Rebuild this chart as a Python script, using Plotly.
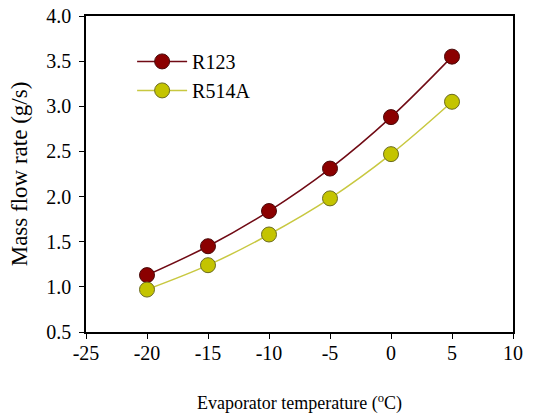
import plotly.graph_objects as go

temps = [-20, -15, -10, -5, 0, 5]
r123 = [1.13, 1.45, 1.84, 2.31, 2.88, 3.55]
r514a = [0.97, 1.24, 1.58, 1.98, 2.47, 3.05]
x_ticks = [-25, -20, -15, -10, -5, 0, 5, 10]
y_ticks = [0.5, 1.0, 1.5, 2.0, 2.5, 3.0, 3.5, 4.0]

font = "Times New Roman, Liberation Serif, DejaVu Serif, serif"

fig = go.Figure()
fig.add_trace(go.Scatter(
    x=temps, y=r123, name="R123", mode="lines+markers",
    line=dict(color="#700a14", width=1.5, shape="spline"),
    marker=dict(size=15, color="#8b0000", line=dict(color="#4a0a0a", width=1)),
))
fig.add_trace(go.Scatter(
    x=temps, y=r514a, name="R514A", mode="lines+markers",
    line=dict(color="#c8c840", width=1.5, shape="spline"),
    marker=dict(size=15, color="#c4c400", line=dict(color="#6b6b20", width=1)),
))

fig.update_layout(
    width=534, height=419, autosize=False,
    margin=dict(l=86, r=21, t=16, b=87, autoexpand=False),
    paper_bgcolor="white", plot_bgcolor="white",
    font=dict(family=font, size=18, color="black"),
    showlegend=True,
    legend=dict(x=0.108, y=0.918, xanchor="left", yanchor="top",
                bgcolor="rgba(0,0,0,0)", font=dict(size=20, family=font, color="black"),
                tracegroupgap=0, itemwidth=50),
    xaxis=dict(
        range=[-25, 10], tickvals=x_ticks, ticktext=[str(v) for v in x_ticks],
        showgrid=False, zeroline=False, showline=True, linecolor="black",
        linewidth=1.5, mirror=True, ticks="outside", ticklen=5, tickcolor="black",
        tickfont=dict(family=font, size=20, color="black"),
        ticklabelstandoff=-3,
        title=dict(text="Evaporator temperature (<sup>o</sup>C)", standoff=34,
                   font=dict(size=18, family=font, color="black")),
        automargin=False,
    ),
    yaxis=dict(
        range=[0.5, 4.0], tickvals=y_ticks, ticktext=[f"{v:.1f}" for v in y_ticks],
        showgrid=False, zeroline=False, showline=True, linecolor="black",
        linewidth=1.5, mirror=True, ticks="outside", ticklen=5, tickcolor="black",
        tickfont=dict(family=font, size=20, color="black"),
        ticklabelstandoff=4,
        title=dict(text="Mass flow rate (g/s)", standoff=12,
                   font=dict(size=23, family=font, color="black")),
        automargin=False,
    ),
)

fig.write_html("out.html", config={"displayModeBar": False},
               post_script="document.body.style.margin='0';")
